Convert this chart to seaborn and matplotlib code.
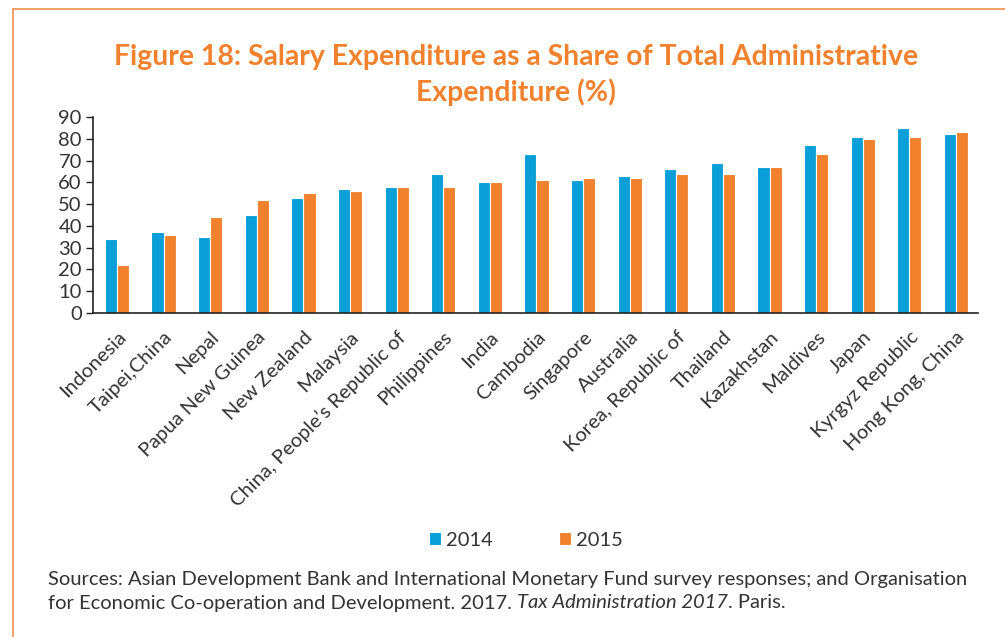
import pandas as pd
import seaborn as sns
import matplotlib.pyplot as plt
from matplotlib.lines import Line2D

countries = ['Indonesia', 'Taipei,China', 'Nepal', 'Papua New Guinea', 'New Zealand',
             'Malaysia', 'China, People\u2019s Republic of', 'Philippines', 'India', 'Cambodia',
             'Singapore', 'Australia', 'Korea, Republic of', 'Thailand', 'Kazakhstan',
             'Maldives', 'Japan', 'Kyrgyz Republic', 'Hong Kong, China']
y2014 = [34, 37, 35, 45, 53, 57, 58, 64, 60, 73, 61, 63, 66, 69, 67, 77, 81, 85, 82]
y2015 = [22, 36, 44, 52, 55, 56, 58, 58, 60, 61, 62, 62, 64, 64, 67, 73, 80, 81, 83]
years = ['2014', '2015']
colors = ['#0A9FD8', '#F2812D']

df = pd.DataFrame({
    'country': countries * 2,
    'year': [years[0]] * len(countries) + [years[1]] * len(countries),
    'value': y2014 + y2015,
})

sns.set_theme(style='white')
plt.rcParams['font.family'] = ['Lato', 'DejaVu Sans']
text_col = '#333333'

fig = plt.figure(figsize=(10.05, 6.37), dpi=100)
ax = fig.add_axes([0.0925, 0.5086, 0.8805, 0.3077])

sns.barplot(data=df, x='country', y='value', hue='year', palette=colors,
            width=0.52, edgecolor='white', linewidth=0.8, saturation=1, ax=ax)

ax.set_ylim(0, 90)
ax.set_xlim(-0.515, 18.47)
ax.set_yticks(range(0, 91, 10))
ax.set_xlabel('')
ax.set_ylabel('')
sns.despine(ax=ax)
for s in ['left', 'bottom']:
    ax.spines[s].set_color('#222222')
    ax.spines[s].set_linewidth(1.2)
ax.tick_params(axis='y', which='both', left=True, length=5, width=1, color='#222222',
               labelsize=14.5, labelcolor=text_col, pad=3)
ax.tick_params(axis='x', bottom=False, labelsize=14.5, labelcolor=text_col, pad=5)
for lab in ax.get_xticklabels():
    lab.set_rotation(45)
    lab.set_ha('right')
    lab.set_rotation_mode('anchor')

handles, labels = ax.get_legend_handles_labels()
ax.legend_.remove()
fig.legend(handles, labels, loc='center', bbox_to_anchor=(526 / 1005, 1 - 540 / 637),
           ncol=2, frameon=False, handlelength=0.6, handleheight=0.6,
           handletextpad=0.25, columnspacing=3.3, fontsize=14.5, labelcolor=text_col)

title_col = '#F2812D'
fig.text(516 / 1005, 1 - 57 / 637, 'Figure 18: Salary Expenditure as a Share of Total Administrative',
         ha='center', va='center', fontsize=20.4, fontweight='bold', color=title_col)
fig.text(516 / 1005, 1 - 92 / 637, 'Expenditure (%)',
         ha='center', va='center', fontsize=20.4, fontweight='bold', color=title_col)

# sources note, with the italic title placed after the plain part
fs = 14.5
fig.text(48 / 1005, 1 - 580 / 637,
         'Sources: Asian Development Bank and International Monetary Fund survey responses; and Organisation',
         ha='left', va='center', fontsize=fs, color=text_col)
t1 = fig.text(48 / 1005, 1 - 603 / 637,
              'for Economic Co-operation and Development. 2017. ',
              ha='left', va='center', fontsize=fs, color=text_col)
fig.canvas.draw()
r = fig.canvas.get_renderer()
x1 = t1.get_window_extent(r).x1 / fig.bbox.width
t2 = fig.text(x1, 1 - 603 / 637, 'Tax Administration 2017',
              ha='left', va='center', fontsize=fs, color=text_col, style='italic')
x2 = t2.get_window_extent(r).x1 / fig.bbox.width
fig.text(x2, 1 - 603 / 637, '. Paris.', ha='left', va='center', fontsize=fs, color=text_col)

# frame lines (top and left edges of the boxed figure)
border = '#F29A5A'
fig.add_artist(Line2D([13 / 1005, 1], [1 - 9 / 637, 1 - 9 / 637], color=border, lw=1.3,
                      transform=fig.transFigure))
fig.add_artist(Line2D([13 / 1005, 13 / 1005], [0, 1 - 9 / 637], color=border, lw=1.3,
                      transform=fig.transFigure))

fig.savefig('out.png', dpi=100, facecolor='white')
